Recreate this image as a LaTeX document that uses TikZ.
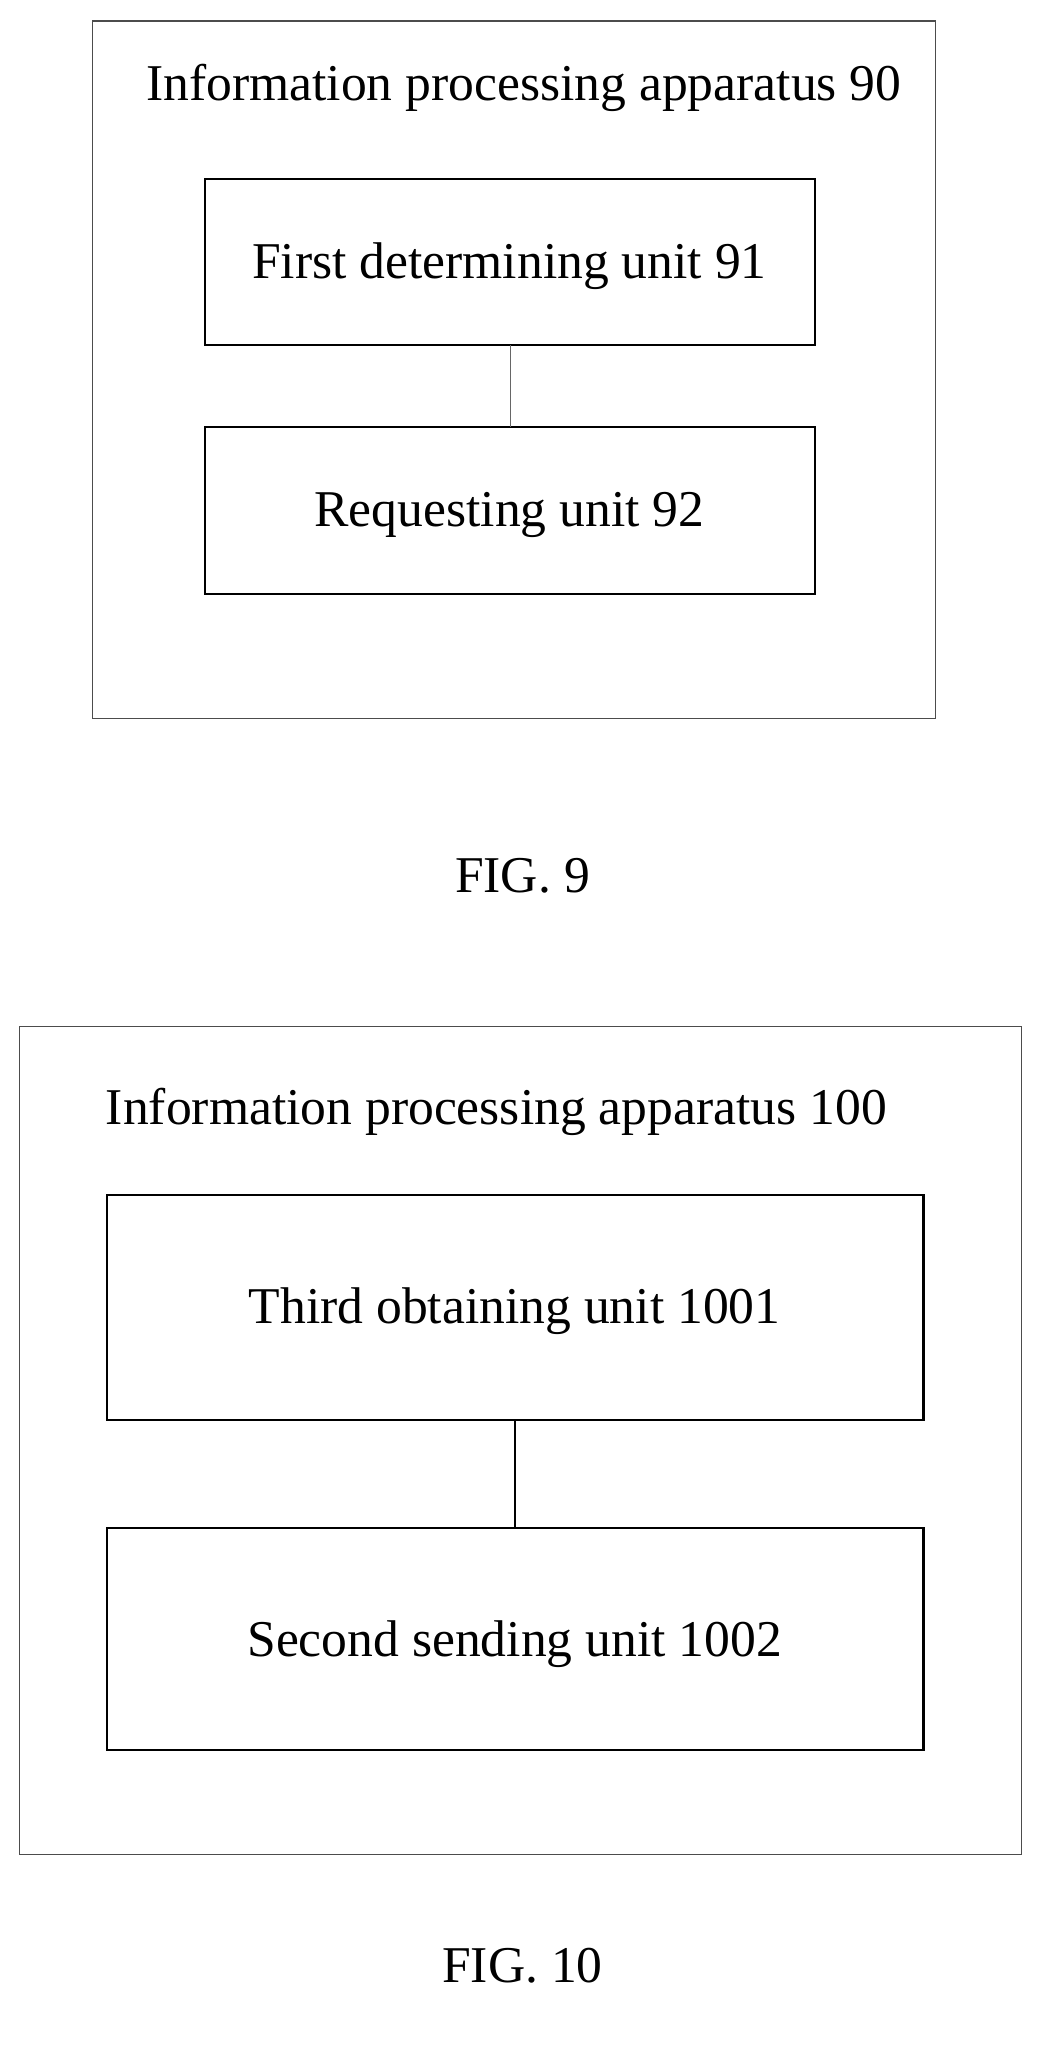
\documentclass[tikz,border=0pt]{standalone}
\usepackage{fontspec}
\setmainfont{Liberation Serif}
\begin{document}
\begin{tikzpicture}[x=1pt,y=-1pt,
  outer/.style={draw=black!70,line width=1pt},
  unit/.style={draw=black,line width=1.6pt},
  lbl/.style={font=\fontsize{39.5}{44}\selectfont,inner sep=0pt,anchor=base}]
\useasboundingbox (0,0) rectangle (800,1571);
% FIG 9
\draw[outer] (71,16) rectangle (716,550);
\node[lbl] (t9) at (401,77) {Information processing apparatus 90};
\draw[unit] (157,137) rectangle (624,264);
\node[lbl] (a91) at (390,213) {First determining unit 91};
\draw[unit] (157,327) rectangle (624,455);
\node[lbl] (a92) at (390,403) {Requesting unit 92};
\coordinate (c1) at (391,264); \coordinate (c2) at (391,327);
\draw[black!60,line width=1pt] (c1) -- (c2);
\node[lbl] (f9) at (400,683) {FIG. 9};
% FIG 10
\draw[outer] (15,786) rectangle (782,1420);
\node[lbl] (t10) at (380,861) {Information processing apparatus 100};
\draw[unit] (82,915) rectangle (707,1087);
\node[lbl] (b1) at (394,1013) {Third obtaining unit 1001};
\draw[unit] (82,1170) rectangle (707,1340);
\node[lbl] (b2) at (394,1268) {Second sending unit 1002};
\coordinate (d1) at (394,1087); \coordinate (d2) at (394,1170);
\draw[black,line width=1.6pt] (d1) -- (d2);
\node[lbl] (f10) at (400,1518) {FIG. 10};
\end{tikzpicture}
\end{document}
